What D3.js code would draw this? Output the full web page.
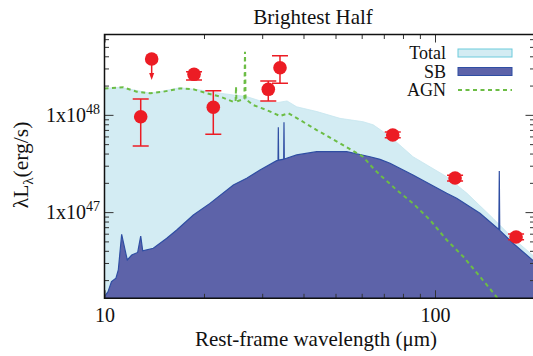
<!DOCTYPE html>
<html>
<head>
<meta charset="utf-8">
<script src="https://cdn.jsdelivr.net/npm/d3@7"></script>
<style>
  body { margin: 0; background: #fff; }
  svg text { font-family: "Liberation Serif", "Times New Roman", "DejaVu Serif", serif; }
</style>
</head>
<body>
<svg id="chart" width="533" height="356"></svg>
<script>
// rest-frame wavelength (micron), lambda L_lambda (erg/s)
const totalSed = [
  [10, 1.87e48], [11.14, 1.92e48], [12.5, 1.78e48], [13.73, 1.67e48], [15.06, 1.76e48],
  [16.92, 1.9e48], [19.45, 1.8e48], [22.37, 1.67e48], [24.54, 1.6e48], [26.93, 1.54e48],
  [30.23, 1.36e48], [33.5, 1.34e48], [35.66, 1.39e48], [38.15, 1.21e48], [43.95, 1.08e48],
  [51.6, 9.2e47], [60.56, 8.5e47], [65, 7.9e47], [73.09, 6.0e47], [85.79, 3.71e47],
  [108.5, 2.31e47], [125, 1.56e47], [149.8, 8.64e46], [172.2, 5.38e46], [200, 3.48e46]
];

const sbSed = [
  [10, 1.35e46], [10.25, 1.52e46], [10.5, 1.93e46], [10.83, 2.09e46], [11.01, 2.54e46],
  [11.27, 5.92e46], [11.54, 4.08e46], [11.72, 3.22e46], [12.09, 3.62e46], [12.6, 3.85e46],
  [12.87, 5.68e46], [13.05, 4.0e46], [14.05, 4.25e46], [15.43, 5.38e46], [16.54, 6.55e46],
  [18.57, 9.34e46], [20.85, 1.23e47], [24.54, 1.9e47], [26.93, 2.23e47], [29.54, 2.71e47],
  [33.19, 3.38e47], [33.5, 3.4e47], [33.57, 7.45e47], [33.64, 3.42e47], [34.85, 3.5e47],
  [34.92, 8.38e47], [34.99, 3.52e47], [38.15, 3.87e47], [43.85, 4.18e47], [54.06, 4.18e47],
  [63.58, 3.71e47], [68.17, 3.49e47], [73.09, 3.18e47], [85.79, 2.41e47], [108.5, 1.56e47],
  [116.3, 1.39e47], [136.8, 9.72e46], [156.0, 6.65e46], [156.5, 2.65e47], [157.0, 6.5e46],
  [172.2, 4.78e46], [200, 3.09e46]
];

const agnSed = [
  [10, 1.87e48], [11.4, 1.92e48], [12.52, 1.73e48], [13.73, 1.67e48], [15.06, 1.73e48],
  [16.92, 1.87e48], [18.57, 1.83e48], [20.38, 1.67e48], [22.37, 1.54e48], [24.54, 1.36e48],
  [24.93, 1.37e48], [25.0, 1.95e48], [25.07, 1.37e48], [26.5, 1.46e48], [26.61, 4.46e48],
  [26.72, 1.45e48], [28.19, 1.26e48], [30.96, 1.12e48], [33.96, 9.73e47], [35.98, 1.04e48],
  [39.04, 8.85e47], [43.85, 6.98e47], [51.6, 5.1e47], [60.56, 3.71e47], [65.06, 2.82e47],
  [68.17, 2.41e47], [76.58, 1.69e47], [85.79, 1.23e47], [96.58, 8.3e46], [108.5, 5.17e46],
  [121.8, 3.48e46], [136.8, 2.17e46], [151.9, 1.41e46], [160, 1.1e46]
];

// photometry: wavelength, value, lower, upper
const photometry = [
  [12.87, 9.57e47, 4.78e47, 1.455e48],
  [18.66, 2.61e48, 2.28e48, 2.78e48],
  [21.34, 1.196e48, 6.31e47, 1.77e48],
  [31.3, 1.83e48, 1.39e48, 2.23e48],
  [33.96, 3.05e48, 2.11e48, 4.06e48],
  [74.5, 6.21e47, 5.8e47, 6.65e47],
  [115.0, 2.24e47, 2.09e47, 2.4e47],
  [175.9, 5.55e46, 5.2e46, 5.95e46]
];
// upper limit: wavelength, value, arrow tip
const upperLimits = [[13.89, 3.75e48, 2.28e48]];

const xMajorTicks = [10, 100];
const xMinorTicks = [20, 30, 40, 50, 60, 70, 80, 90, 200];
const yMajorTicks = [1e47, 1e48];
const yMinorTicks = [2e46, 3e46, 4e46, 5e46, 6e46, 7e46, 8e46, 9e46,
  2e47, 3e47, 4e47, 5e47, 6e47, 7e47, 8e47, 9e47, 2e48, 3e48, 4e48, 5e48, 6e48];
const yMajorLabels = ["47", "48"];
const legendNames = ["Total", "SB", "AGN"];

const serif = "Liberation Serif, Times New Roman, DejaVu Serif, serif";
const plotLeft = 104.5, plotRight = 534.5, plotTop = 34.5, plotBottom = 298.3;

const svg = d3.select("#chart");
const x = d3.scaleLog().domain([10, 200]).range([plotLeft, plotRight]);
const y = d3.scaleLog().domain([1.3e46, 6.7e48]).range([plotBottom, plotTop]);

svg.append("defs").append("clipPath").attr("id", "plot-clip")
  .append("rect")
  .attr("x", plotLeft).attr("y", plotTop)
  .attr("width", plotRight - plotLeft).attr("height", plotBottom - plotTop);

const plot = svg.append("g").attr("clip-path", "url(#plot-clip)");

const area = d3.area()
  .x(d => x(d[0]))
  .y0(plotBottom)
  .y1(d => y(d[1]));

plot.append("path")
  .datum(totalSed)
  .attr("d", area)
  .attr("fill", "#d3ecf3")
  .attr("stroke", "#c6e6ef")
  .attr("stroke-width", 0.8);

plot.append("path")
  .datum(sbSed)
  .attr("d", area)
  .attr("fill", "#5d63a9")
  .attr("stroke", "#2f4ea3")
  .attr("stroke-width", 1.2);

plot.append("path")
  .datum(agnSed)
  .attr("d", d3.line().x(d => x(d[0])).y(d => y(d[1])))
  .attr("fill", "none")
  .attr("stroke", "#6cbd45")
  .attr("stroke-width", 2)
  .attr("stroke-dasharray", "4,3.5");

// error bars
const red = "#ec1c24";
const capW = 8;
const err = plot.append("g").attr("stroke", red).attr("stroke-width", 1.5);
photometry.forEach(p => {
  const cx = x(p[0]);
  err.append("line").attr("x1", cx).attr("x2", cx).attr("y1", y(p[2])).attr("y2", y(p[3]));
  err.append("line").attr("x1", cx - capW).attr("x2", cx + capW).attr("y1", y(p[2])).attr("y2", y(p[2]));
  err.append("line").attr("x1", cx - capW).attr("x2", cx + capW).attr("y1", y(p[3])).attr("y2", y(p[3]));
});
upperLimits.forEach(p => {
  const cx = x(p[0]);
  const tip = y(p[2]);
  err.append("line").attr("x1", cx).attr("x2", cx).attr("y1", y(p[1])).attr("y2", tip - 3);
  plot.append("path")
    .attr("d", `M${cx - 2.5},${tip - 7} L${cx + 2.5},${tip - 7} L${cx},${tip} Z`)
    .attr("fill", red);
});

plot.append("g")
  .selectAll("circle")
  .data(photometry.concat(upperLimits))
  .join("circle")
  .attr("cx", d => x(d[0]))
  .attr("cy", d => y(d[1]))
  .attr("r", 6.8)
  .attr("fill", red);

// axes, ticks pointing inward on all four sides
const tickColor = "#333";
function styleAxis(g) {
  g.select(".domain").remove();
  g.selectAll(".tick line").attr("stroke", tickColor).attr("stroke-width", 1);
}

svg.append("g")
  .attr("transform", `translate(0,${plotBottom})`)
  .call(d3.axisBottom(x).tickValues(xMajorTicks).tickSize(-8).tickPadding(9.5).tickFormat(d3.format("d")))
  .call(styleAxis)
  .call(g => g.attr("font-family", serif).attr("font-size", 20))
  .call(g => g.selectAll("text").attr("fill", "#111"));
svg.append("g")
  .attr("transform", `translate(0,${plotBottom})`)
  .call(d3.axisBottom(x).tickValues(xMinorTicks).tickSize(-4.5).tickFormat(""))
  .call(styleAxis);
svg.append("g")
  .attr("transform", `translate(0,${plotTop})`)
  .call(d3.axisTop(x).tickValues(xMajorTicks).tickSize(-8).tickFormat(""))
  .call(styleAxis);
svg.append("g")
  .attr("transform", `translate(0,${plotTop})`)
  .call(d3.axisTop(x).tickValues(xMinorTicks).tickSize(-4.5).tickFormat(""))
  .call(styleAxis);

svg.append("g")
  .attr("transform", `translate(${plotLeft},0)`)
  .call(d3.axisLeft(y).tickValues(yMajorTicks).tickSize(-9).tickFormat(""))
  .call(styleAxis);
svg.append("g")
  .attr("transform", `translate(${plotLeft},0)`)
  .call(d3.axisLeft(y).tickValues(yMinorTicks).tickSize(-4.5).tickFormat(""))
  .call(styleAxis);
svg.append("g")
  .attr("transform", `translate(${plotRight},0)`)
  .call(d3.axisRight(y).tickValues(yMajorTicks).tickSize(-9).tickFormat(""))
  .call(styleAxis);
svg.append("g")
  .attr("transform", `translate(${plotRight},0)`)
  .call(d3.axisRight(y).tickValues(yMinorTicks).tickSize(-4.5).tickFormat(""))
  .call(styleAxis);

// y tick labels with superscript exponent
yMajorTicks.forEach((v, i) => {
  const t = svg.append("text")
    .attr("x", 100)
    .attr("y", y(v) + 7)
    .attr("text-anchor", "end")
    .attr("font-family", serif)
    .attr("font-size", 20)
    .attr("fill", "#111");
  t.append("tspan").text("1x10");
  t.append("tspan").attr("dy", -8).attr("font-size", 14).text(yMajorLabels[i]);
});

// frame
svg.append("path")
  .attr("d", `M${plotRight},${plotTop} L${plotLeft},${plotTop} L${plotLeft},${plotBottom} L${plotRight},${plotBottom}`)
  .attr("fill", "none")
  .attr("stroke", "#111")
  .attr("stroke-width", 1.5);

// title and axis labels
svg.append("text")
  .attr("x", 313).attr("y", 24)
  .attr("text-anchor", "middle")
  .attr("font-family", serif)
  .attr("font-size", 21)
  .attr("fill", "#111")
  .text("Brightest Half");

svg.append("text")
  .attr("x", 316).attr("y", 346)
  .attr("text-anchor", "middle")
  .attr("font-family", serif)
  .attr("font-size", 21)
  .attr("fill", "#111")
  .text("Rest-frame wavelength (\u03bcm)");

const ylab = svg.append("text")
  .attr("transform", "translate(28,165) rotate(-90)")
  .attr("text-anchor", "middle")
  .attr("font-family", serif)
  .attr("font-size", 21.5)
  .attr("fill", "#111");
ylab.append("tspan").text("\u03bbL");
ylab.append("tspan").attr("dy", 5).attr("font-size", 15).text("\u03bb");
ylab.append("tspan").attr("dy", -5).text("(erg/s)");

// legend
const legend = svg.append("g");
const rowY = [53, 71.5, 90];
legendNames.forEach((name, i) => {
  legend.append("text")
    .attr("x", 446)
    .attr("y", rowY[i] + 6)
    .attr("text-anchor", "end")
    .attr("font-family", serif)
    .attr("font-size", 18)
    .attr("fill", "#111")
    .text(name);
});
legend.append("rect")
  .attr("x", 458).attr("y", rowY[0] - 4).attr("width", 54).attr("height", 8)
  .attr("fill", "#d3ecf3").attr("stroke", "#6ccbdc").attr("stroke-width", 1);
legend.append("rect")
  .attr("x", 458).attr("y", rowY[1] - 4).attr("width", 54).attr("height", 8)
  .attr("fill", "#5d63a9").attr("stroke", "#2f4ea3").attr("stroke-width", 1);
legend.append("line")
  .attr("x1", 458).attr("x2", 512).attr("y1", rowY[2]).attr("y2", rowY[2])
  .attr("stroke", "#6cbd45").attr("stroke-width", 2).attr("stroke-dasharray", "4,3.5");
</script>
</body>
</html>
